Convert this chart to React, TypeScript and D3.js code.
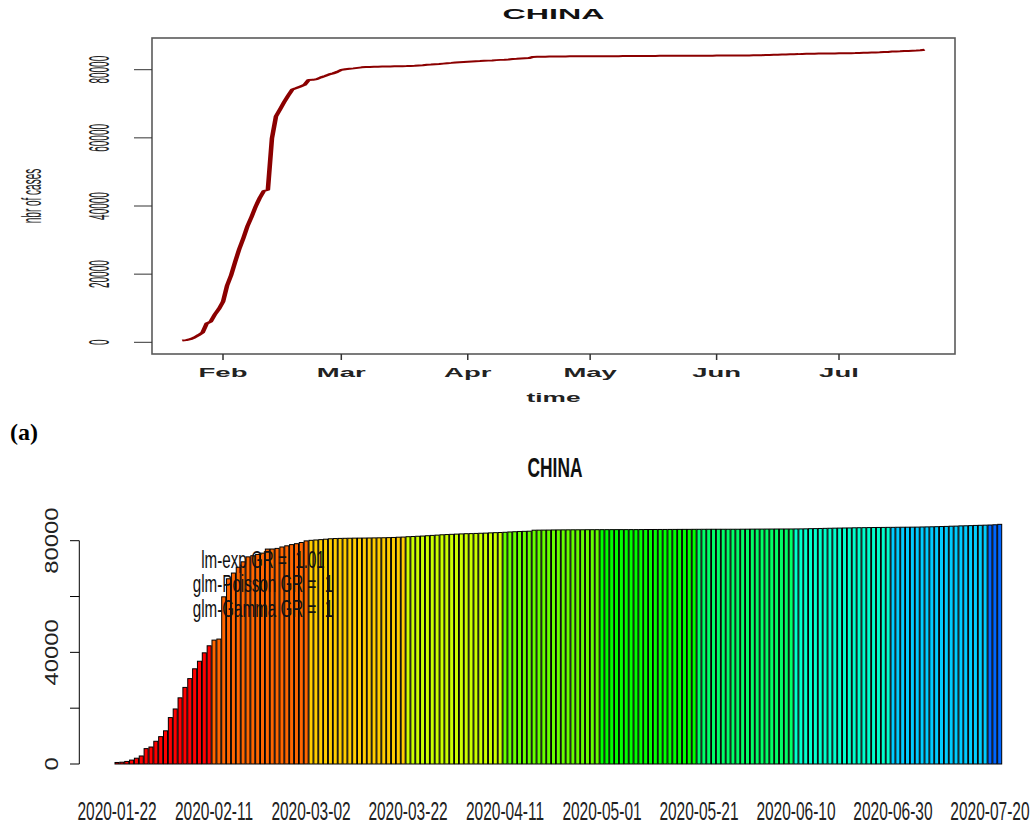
import React from "react";
import * as d3 from "d3";

// cumulative confirmed cases, China, 2020-01-22 .. 2020-07-22 (one value per day)
const startDay = new Date(2020, 0, 22);
const janCases = [548, 643, 920, 1406, 2075, 2877, 5509, 6087, 8141, 9802];
const febCases = [11891, 16630, 19716, 23707, 27440, 30587, 34110, 36814, 39829, 42354,
  44386, 44759, 59895, 66358, 68413, 70513, 72434, 74211, 74619, 75077,
  75550, 77001, 77022, 77241, 77754, 78166, 78600, 78928, 79356];
const marCases = [79932, 80136, 80261, 80386, 80537, 80690, 80770, 80823, 80860, 80887,
  80921, 80932, 80945, 80977, 81003, 81033, 81058, 81102, 81156, 81250,
  81305, 81435, 81498, 81591, 81661, 81782, 81897, 81999, 82122, 82198, 82279];
const aprCases = [82361, 82432, 82511, 82543, 82602, 82665, 82718, 82809, 82883, 82941,
  83014, 83134, 83213, 83306, 83356, 83403, 83760, 83787, 83805, 83817,
  83853, 83868, 83884, 83899, 83909, 83912, 83918, 83940, 83944, 83956];
const mayCases = [83959, 83959, 83964, 83966, 83968, 83970, 83975, 83976, 83990, 84010,
  84011, 84018, 84024, 84029, 84038, 84044, 84054, 84063, 84063, 84081,
  84084, 84095, 84102, 84103, 84103, 84103, 84103, 84106, 84106, 84123, 84128];
const junCases = [84146, 84154, 84160, 84171, 84177, 84186, 84191, 84195, 84198, 84216,
  84228, 84253, 84310, 84335, 84378, 84422, 84458, 84494, 84522, 84553,
  84572, 84624, 84653, 84673, 84701, 84725, 84743, 84757, 84780, 84786];
const julCases = [84816, 84830, 84838, 84857, 84871, 84917, 84950, 84981, 85023, 85071,
  85117, 85194, 85226, 85314, 85345, 85397, 85472, 85518, 85565, 85622,
  85707, 85860];

const cases = [...janCases, ...febCases, ...marCases, ...aprCases, ...mayCases, ...junCases, ...julCases];
const days = cases.map((_, i) => d3.timeDay.offset(startDay, i));

const countryName = "CHINA";
const caseTicks = [0, 20000, 40000, 60000, 80000];
const barCaseLabels = [0, 40000, 80000];
const fitLabels = ["lm-exp GR =  1.01", "glm-Poisson GR =  1", "glm-Gamma GR =  1"];
const labelEvery = 20;
const paletteSize = 15; // like R rainbow(15), one colour per 20 days

const sans = "Liberation Sans, Arial, Helvetica, sans-serif";

// the original picture is squeezed/stretched sideways, so text gets an x-scale
function SText({ x, y, sx = 1, rot = 0, children, ...rest }: any) {
  return (
    <text transform={`translate(${x},${y}) scale(${sx},1) rotate(${rot})`} fontFamily={sans} {...rest}>
      {children}
    </text>
  );
}

function TopChart() {
  const box = { left: 152, right: 955, top: 38, bottom: 354 };
  const x = d3.scaleTime().domain([new Date(2020, 1, 1), new Date(2020, 6, 1)]).range([223, 839]);
  const y = d3.scaleLinear().domain([0, 80000]).range([342.3, 69.7]);
  const stretch = 2.3;
  const line = d3.line<number>()
    .x((_, i) => x(days[i]) / stretch)
    .y(d => y(d));
  const months = x.ticks(d3.timeMonth.every(1) as any);
  const fmt = d3.timeFormat("%b");
  const midX = (box.left + box.right) / 2;

  return (
    <g>
      <SText x={midX} y={18.8} sx={2.3} fontSize={14} fontWeight="bold" textAnchor="middle" fill="#111">
        {countryName}
      </SText>
      <g transform={`scale(${stretch},1)`}>
        <path d={line(cases) || ""} fill="none" stroke="#8B0000" strokeWidth={2} strokeLinejoin="round" />
      </g>
      <rect x={box.left} y={box.top} width={box.right - box.left} height={box.bottom - box.top}
        fill="none" stroke="#5a5a5a" strokeWidth={1.6} />
      {caseTicks.map(t => (
        <g key={t}>
          <line x1={134} x2={box.left} y1={y(t)} y2={y(t)} stroke="#333" strokeWidth={1} />
          <SText x={99} y={y(t)} sx={2.9} rot={-90} fontSize={10} textAnchor="middle" dy="0.35em" fill="#222">
            {t}
          </SText>
        </g>
      ))}
      {months.map(m => (
        <g key={m.getTime()}>
          <line x1={x(m)} x2={x(m)} y1={box.bottom} y2={box.bottom + 6} stroke="#333" strokeWidth={1.5} />
          <SText x={x(m)} y={377} sx={2.2} fontSize={12.5} fontWeight="bold" textAnchor="middle" fill="#222">
            {fmt(m)}
          </SText>
        </g>
      ))}
      <SText x={midX} y={402} sx={2.1} fontSize={12.5} fontWeight="bold" textAnchor="middle" fill="#222">
        time
      </SText>
      <SText x={32} y={196} sx={2.7} rot={-90} fontSize={10} textAnchor="middle" dy="0.35em" fill="#222">
        nbr of cases
      </SText>
    </g>
  );
}

function BarChart() {
  const x = d3.scaleBand<number>()
    .domain(d3.range(cases.length))
    .range([115, 1001.7])
    .paddingInner(0.2 / 1.2)
    .paddingOuter(0);
  const y = d3.scaleLinear().domain([0, 80000]).range([764, 540.7]);
  const palette = d3.range(paletteSize).map(k => d3.hsl((360 * k) / paletteSize, 1, 0.5).formatHex());
  const fmt = d3.timeFormat("%Y-%m-%d");
  const axisX = 79.3;

  return (
    <g>
      <SText x={555} y={477} sx={0.62} fontSize={28} fontWeight="bold" textAnchor="middle" fill="#111">
        {countryName}
      </SText>
      {cases.map((v, i) => (
        <rect key={i} x={x(i)} y={y(v)} width={x.bandwidth()} height={y(0) - y(v)}
          fill={palette[Math.floor(i / labelEvery)]} stroke="#000" strokeWidth={1} />
      ))}
      <line x1={axisX} x2={axisX} y1={y(0)} y2={y(80000)} stroke="#000" strokeWidth={1} />
      {caseTicks.map(t => (
        <line key={t} x1={70} x2={axisX} y1={y(t)} y2={y(t)} stroke="#000" strokeWidth={1} />
      ))}
      {barCaseLabels.map(t => (
        <SText key={t} x={51.7} y={y(t)} sx={0.78} rot={-90} fontSize={23.8} textAnchor="middle" dy="0.35em" fill="#222">
          {t}
        </SText>
      ))}
      {cases.map((_, i) => i % labelEvery === 0 ? (
        <SText key={i} x={(x(i) as number) + x.bandwidth() / 2} y={820} sx={0.62} fontSize={25}
          textAnchor="middle" fill="#222">
          {fmt(days[i])}
        </SText>
      ) : null)}
      {fitLabels.map((t, i) => (
        <SText key={t} x={263} y={568 + i * 24.3} sx={0.62} fontSize={24.5} textAnchor="middle"
          fill="#111" style={{ whiteSpace: "pre" }}>
          {t}
        </SText>
      ))}
    </g>
  );
}

export default function App() {
  return (
    <div style={{ position: "absolute", left: 0, top: 0 }}>
      <svg width={1032} height={825} style={{ display: "block", background: "#fff" }}>
        <TopChart />
        <text x={10} y={440} fontFamily="Liberation Serif, Times New Roman, serif" fontWeight="bold" fontSize={24}>
          (a)
        </text>
        <BarChart />
      </svg>
    </div>
  );
}
